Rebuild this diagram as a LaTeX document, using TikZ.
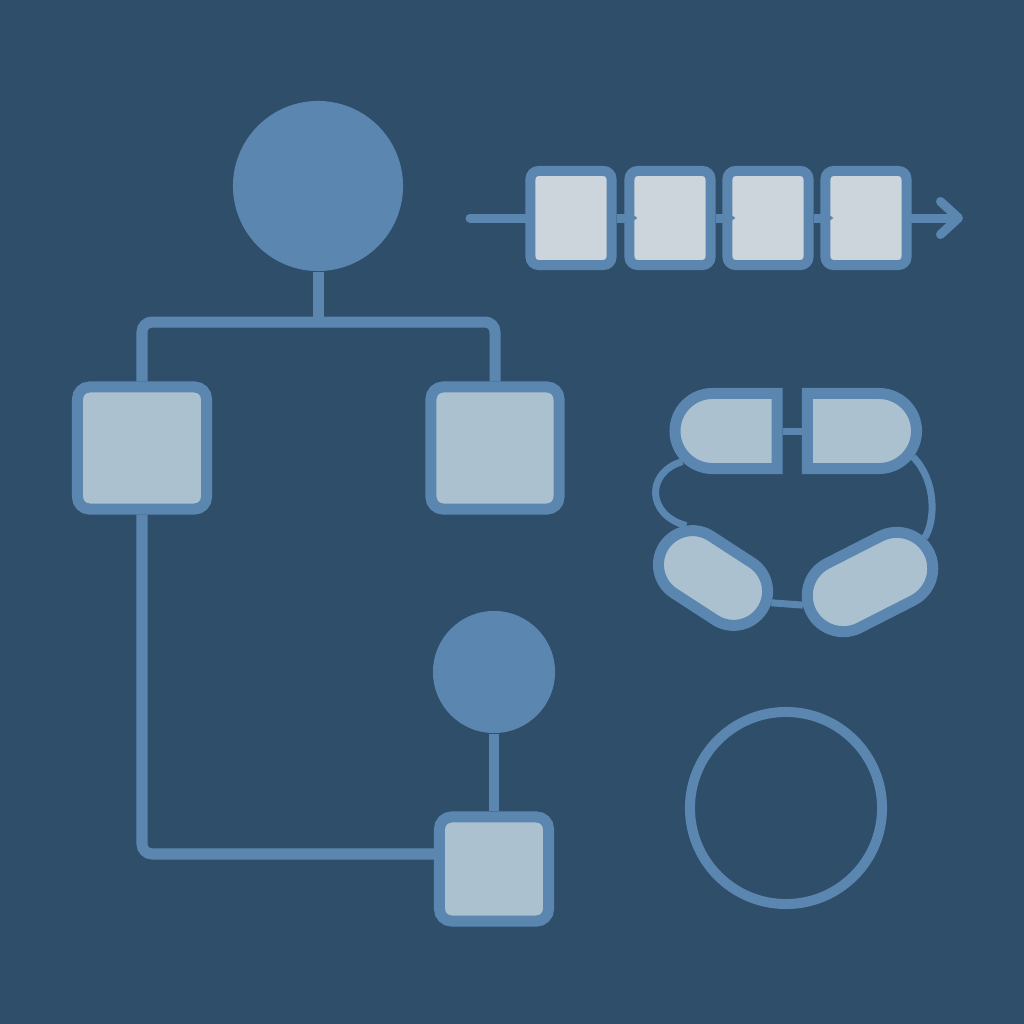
\documentclass[tikz,border=0pt]{standalone}
\usetikzlibrary{shapes.misc,arrows.meta}
\definecolor{bgblue}{RGB}{46,78,106}
\definecolor{midblue}{RGB}{91,134,176}
\definecolor{boxfill}{RGB}{172,193,208}
\definecolor{cellfill}{RGB}{203,213,219}

\begin{document}
\begin{tikzpicture}[x=0.01cm, y=-0.01cm,
        hub/.style={circle, fill=midblue, inner sep=0},
        leaf/.style={draw=midblue, fill=boxfill, line width=0.11cm, rounded corners=0.12cm, inner sep=0},
        cell/.style={draw=midblue, fill=cellfill, line width=0.1cm, rounded corners=0.08cm, inner sep=0,
            minimum width=0.81cm, minimum height=0.94cm},
        pill/.style={rounded rectangle, draw=midblue, fill=boxfill, line width=0.11cm, inner sep=0},
        link/.style={midblue, line width=0.11cm}]
        \fill[bgblue] (0,0) rectangle (1024,1024);

        \node[hub, minimum size=1.7cm] (root) at (318,186) {};
        \node[leaf, minimum width=1.29cm, minimum height=1.22cm] (lbox) at (142,448) {};
        \node[leaf, minimum width=1.28cm, minimum height=1.22cm] (rbox) at (495,448) {};
        \node[hub, minimum size=1.22cm] (knob) at (494,672) {};
        \node[leaf, minimum width=1.09cm, minimum height=1.04cm] (tip) at (494,869) {};

        \coordinate (fork) at (318,322);
        \draw[link] (root.south) -- (fork);
        \draw[link, rounded corners=0.1cm] (lbox.north) |- (fork) -| (rbox.north);
        \draw[link, line width=0.1cm] (knob.south) -- (tip.north);
        \draw[link, rounded corners=0.1cm] (lbox.south) |- ([yshift=0.15cm]tip.west);

        \foreach \x[count=\i] in {571, 670, 768, 866} {
            \node[cell] (c\i) at (\x, 218) {};
        }
        \coordinate (src) at (470,218);
        \coordinate (snk) at (963,218);
        \draw[link, line width=0.09cm, line cap=round] (src) -- (c1.west);
        \foreach \i[count=\j from 2] in {1, 2, 3} {
            \draw[link, line width=0.09cm, -{Triangle[length=0.12cm, width=0.17cm]}, shorten >=-0.13cm] (c\i.east) -- (c\j.west);
        }
        \draw[link, line width=0.09cm, line cap=round, -{Straight Barb[length=0.18cm, width=0.33cm, round]}] (c4.east) -- (snk);

        \node[pill, rounded rectangle right arc=none, minimum width=1.02cm, minimum height=0.75cm] (tl) at (726,431) {};
        \node[pill, rounded rectangle left arc=none, minimum width=1.09cm, minimum height=0.75cm] (tr) at (862,431) {};
        \node[pill, rotate=-33, minimum width=1.17cm, minimum height=0.68cm] (bl) at (713,578) {};
        \node[pill, rotate=27, minimum width=1.32cm, minimum height=0.72cm] (br) at (870,582) {};
        \draw[link, line width=0.07cm] (tl.east) -- (tr.west);
        \draw[link, line width=0.07cm] (tl.215) .. controls (646,472) and (646,515) .. (bl.150);
        \draw[link, line width=0.07cm] (tr.333) .. controls (936,480) and (936,520) .. (br.12);
        \draw[link, line width=0.07cm] (bl.10) -- (br.172);

        \node[draw=midblue, line width=0.1cm, circle, minimum size=1.92cm, inner sep=0] (ring) at (786,808) {};
    \end{tikzpicture}
\end{document}
